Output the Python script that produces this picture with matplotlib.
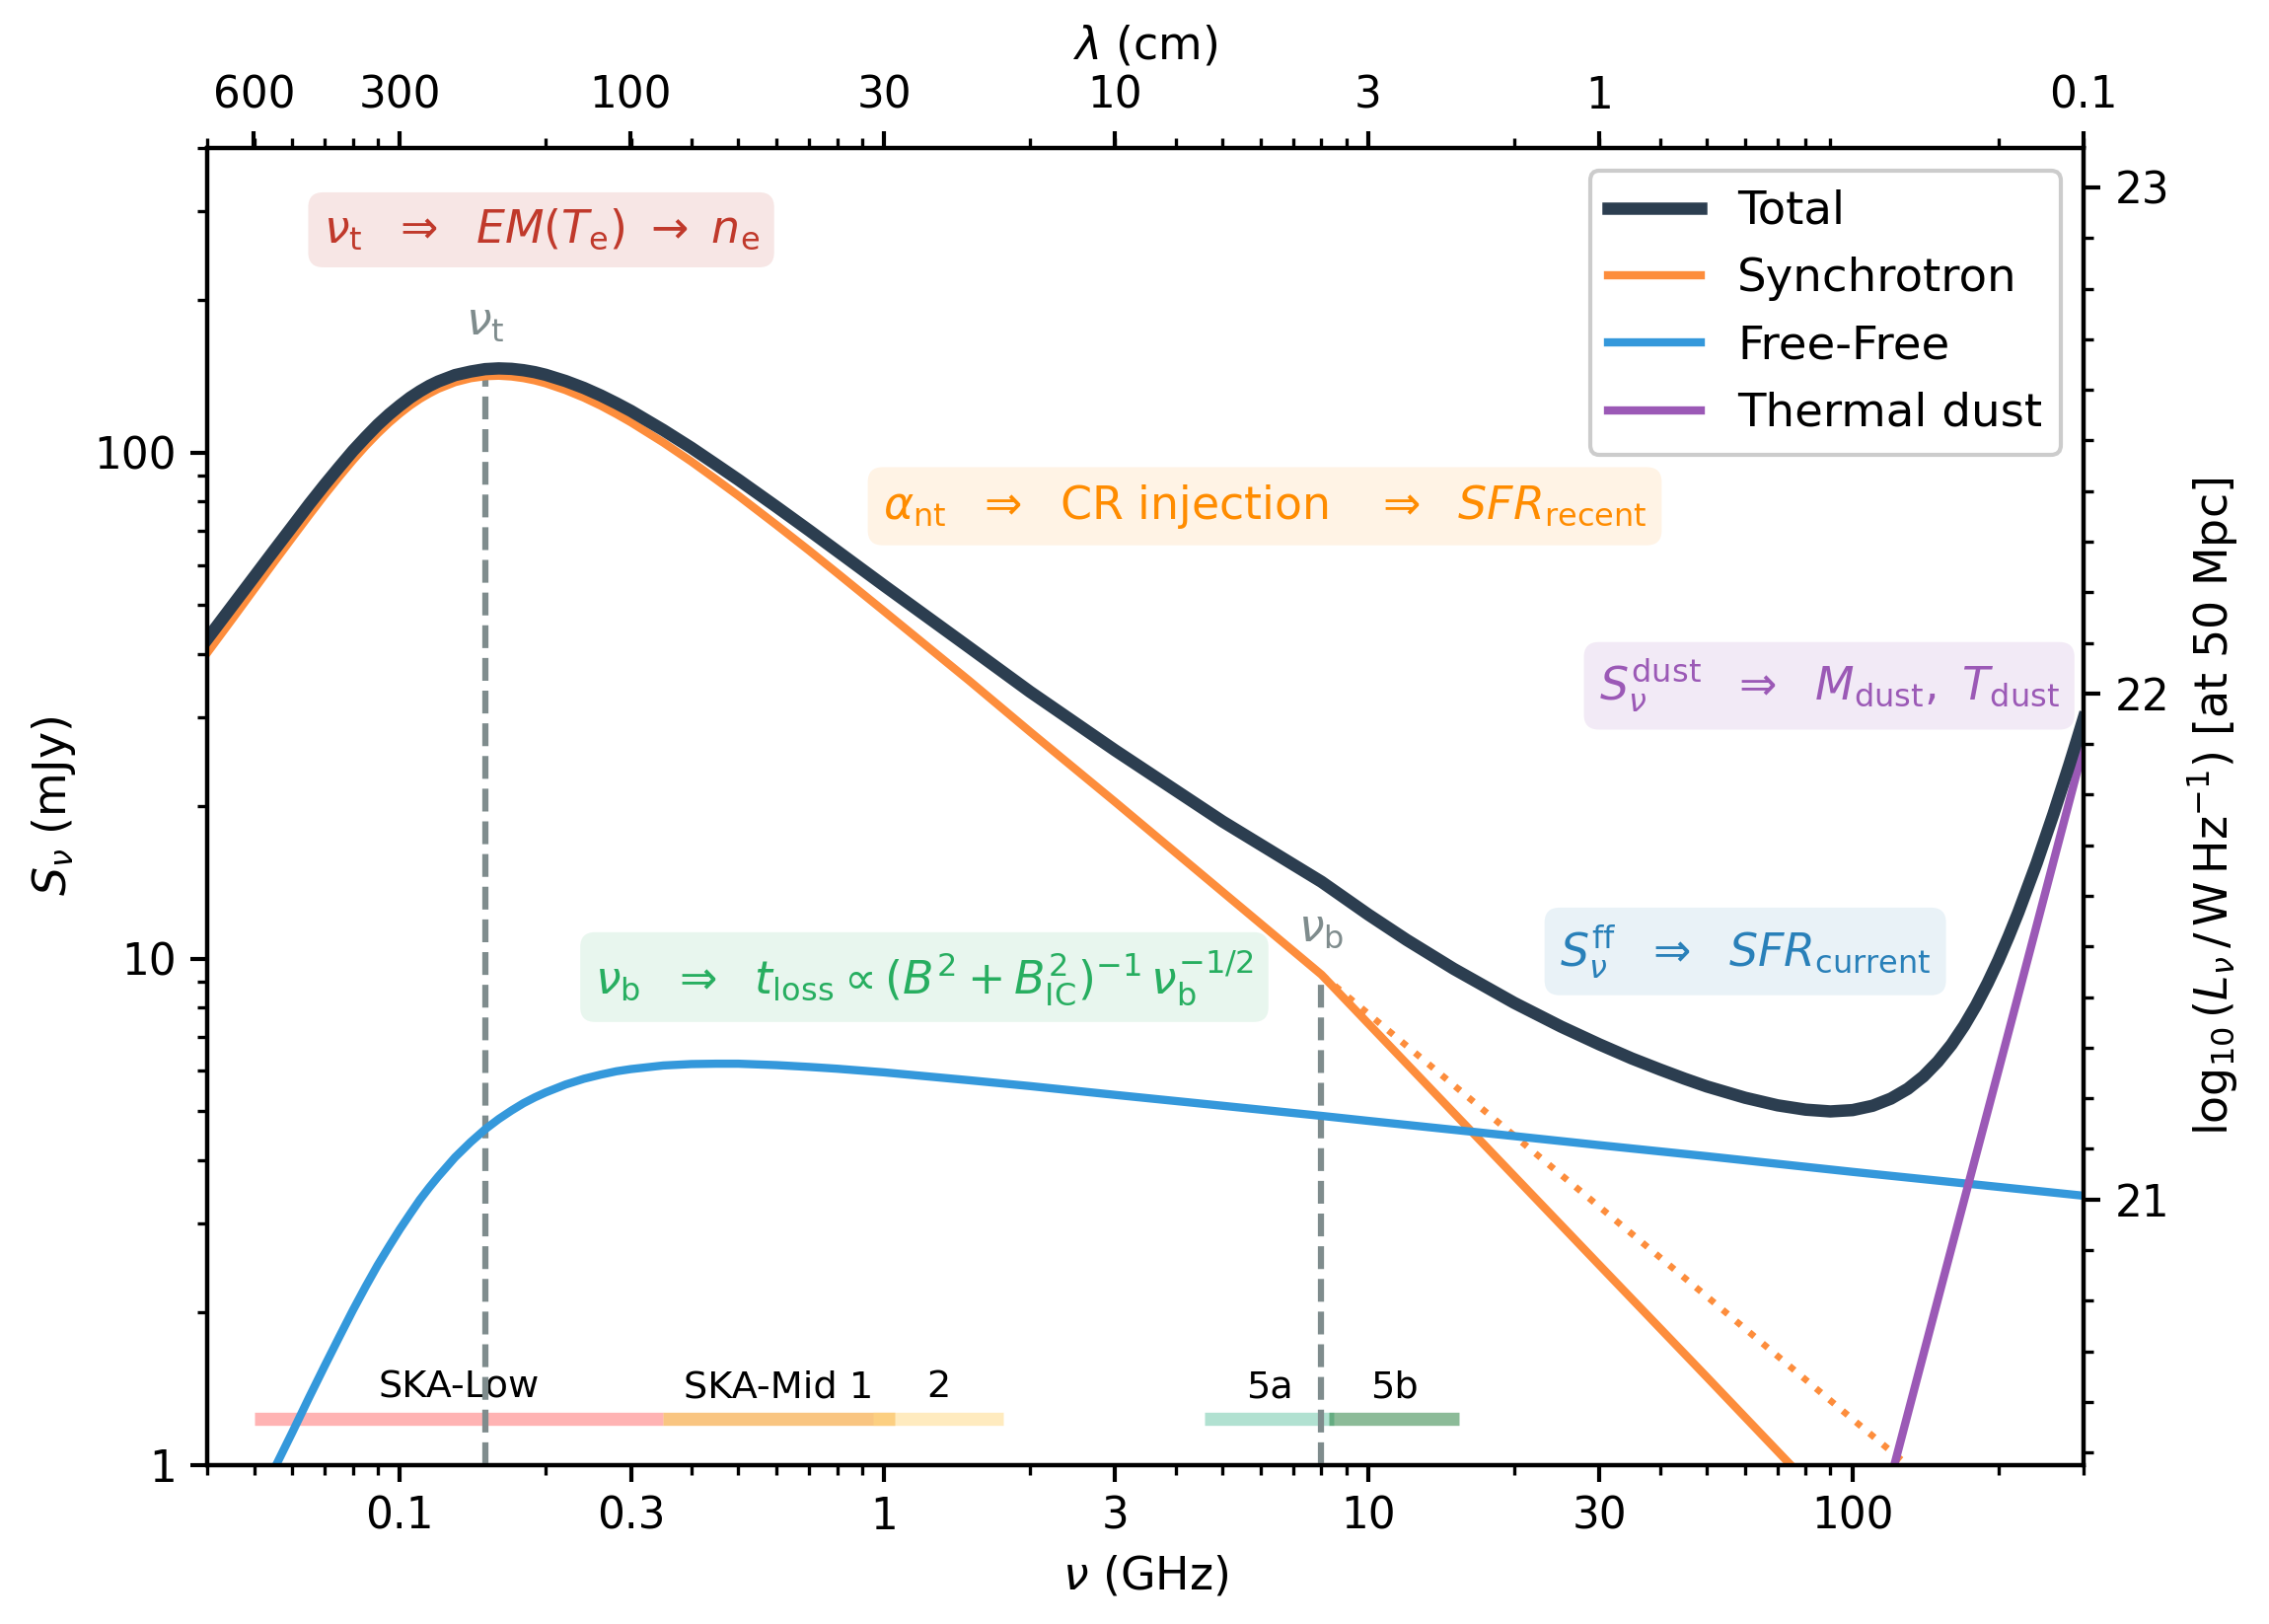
import numpy as np
import matplotlib
matplotlib.use("Agg")
import matplotlib.pyplot as plt
from matplotlib.ticker import NullFormatter, MultipleLocator

# --- values (nu in GHz, S in mJy) ---
nu_tot = [0.04, 0.045, 0.05, 0.055, 0.06, 0.065, 0.07, 0.075, 0.08, 0.085, 0.09, 0.095,
          0.10, 0.105, 0.11, 0.115, 0.12, 0.13, 0.14, 0.15, 0.16, 0.17, 0.18, 0.19,
          0.20, 0.22, 0.24, 0.26, 0.28, 0.30, 0.35, 0.40, 0.45, 0.50, 0.60, 0.70,
          0.80, 1.0, 1.5, 2.0, 3.0, 5.0, 8.0, 10, 12, 15, 20, 25, 30, 35, 40, 45,
          50, 60, 70, 80, 90, 100, 110, 120, 130, 140, 150, 160, 170, 180, 190,
          200, 210, 220, 240, 260, 280, 290, 300]
s_tot = [42.8, 49.7, 56.8, 64.1, 71.5, 79.1, 86.5, 93.7, 100.8, 107.3, 113.5, 119.0,
         123.9, 128.4, 132.2, 135.5, 138.2, 142.3, 144.6, 146.2, 146.7, 146.4, 145.5, 144.2,
         142.5, 138.5, 134.2, 129.7, 125.2, 120.9, 110.8, 102.2, 94.7, 88.4, 78.1, 70.2,
         63.9, 54.6, 41.2, 33.7, 25.8, 18.67, 14.19, 12.22, 10.89, 9.55, 8.18, 7.34, 6.77, 6.35, 6.04, 5.79,
         5.59, 5.31, 5.13, 5.03, 4.99, 5.02, 5.12, 5.29, 5.53, 5.85, 6.26, 6.76, 7.37, 8.09, 8.94,
         9.92, 11.06, 12.35, 15.45, 19.33, 24.09, 26.84, 29.85]

nu_syn = [0.04, 0.045, 0.05, 0.055, 0.06, 0.065, 0.07, 0.075, 0.08, 0.085, 0.09, 0.095,
          0.10, 0.105, 0.11, 0.115, 0.12, 0.13, 0.14, 0.15, 0.16, 0.17, 0.18, 0.19,
          0.20, 0.22, 0.24, 0.26, 0.28, 0.30, 0.35, 0.40, 0.45, 0.50, 0.60, 0.70,
          0.80, 1.0, 1.5, 2.0, 3.0, 5.0, 8.0, 16, 30, 50, 80, 100]
s_syn = [40.2, 46.8, 53.7, 60.8, 68.0, 75.3, 82.6, 89.7, 96.6, 103.1, 109.1, 114.6,
         119.5, 123.9, 127.7, 130.9, 133.7, 137.8, 140.3, 141.6, 141.9, 141.4, 140.35, 138.9,
         137.1, 132.9, 128.4, 123.8, 119.2, 114.8, 104.7, 96.0, 88.5, 82.2, 71.9, 64.05,
         57.8, 48.6, 35.4, 28.1, 20.4, 13.55, 9.30, 4.65, 2.48, 1.49, 0.93, 0.74]

# unbroken power law continued past the break (dotted)
nu_syn_nobreak = [8.0, 20, 50, 100, 140]
s_syn_nobreak = [9.30, 4.47, 2.15, 1.23, 0.94]

nu_ff = [0.04, 0.05, 0.055, 0.06, 0.065, 0.07, 0.075, 0.08, 0.085, 0.09, 0.095, 0.10,
         0.105, 0.11, 0.115, 0.12, 0.13, 0.14, 0.15, 0.16, 0.17, 0.18, 0.19, 0.20,
         0.22, 0.24, 0.26, 0.28, 0.30, 0.35, 0.40, 0.45, 0.50, 0.60, 0.70, 0.80,
         1.0, 1.5, 2.0, 3.0, 5.0, 8.0, 10, 15, 20, 30, 50, 100, 200, 300]
s_ff = [0.52, 0.81, 0.98, 1.16, 1.36, 1.57, 1.79, 2.02, 2.25, 2.48, 2.70, 2.92,
        3.13, 3.34, 3.53, 3.71, 4.05, 4.34, 4.60, 4.82, 5.01, 5.18, 5.32, 5.44,
        5.64, 5.79, 5.90, 5.99, 6.05, 6.15, 6.19, 6.20, 6.20, 6.16, 6.11, 6.06,
        5.96, 5.75, 5.60, 5.38, 5.12, 4.89, 4.78, 4.59, 4.46, 4.28, 4.07, 3.79, 3.54, 3.40]

nu_dust = [100, 122, 150, 200, 250, 300]
s_dust = [0.49, 1.0, 2.12, 6.0, 13.5, 26.2]

nu_t, s_at_nu_t = 0.15, 141.6
nu_b, s_at_nu_b = 8.0, 9.30

ska_labels = ['SKA-Low', 'SKA-Mid 1', '2', '5a', '5b']
ska_lo = [0.05, 0.35, 0.95, 4.6, 8.3]
ska_hi = [0.35, 1.05, 1.76, 8.5, 15.4]
ska_colors = ['#ff6969', '#f58d05', '#ffd981', '#65c5a5', '#1b7933']
ska_y = 1.23

lam_ticks = [600, 300, 100, 30, 10, 3, 1, 0.1]
lam_labels = ['600', '300', '100', '30', '10', '3', '1', '0.1']
nu_ticks = [0.1, 0.3, 1, 3, 10, 30, 100]
nu_labels = ['0.1', '0.3', '1', '3', '10', '30', '100']

C_CM_GHZ = 29.98
LOG_L_OFFSET = 20.476   # log10(4 pi d^2 x 1 mJy) for d = 50 Mpc

c_tot, c_syn, c_ff, c_dust = '#2c3e50', '#fd8d3c', '#3498db', '#9b59b6'
c_guide = '#7f8c8d'

plt.rcParams['font.family'] = ['DejaVu Sans']
plt.rcParams['mathtext.fontset'] = 'dejavusans'
plt.rcParams['font.size'] = 10.5

fig = plt.figure(figsize=(2300 / 300, 1646 / 300), dpi=300)
ax = fig.add_axes([0.0913, 0.0981, 0.8270, 0.8108])

ax.plot(nu_tot, s_tot, color=c_tot, lw=3, label='Total', zorder=6)
ax.plot(nu_syn, s_syn, color=c_syn, lw=2, label='Synchrotron', zorder=5)
ax.plot(nu_syn_nobreak, s_syn_nobreak, color=c_syn, lw=1.6, ls=':', zorder=4)
ax.plot(nu_ff, s_ff, color=c_ff, lw=2, label='Free-Free', zorder=5)
ax.plot(nu_dust, s_dust, color=c_dust, lw=2, label='Thermal dust', zorder=5)

y_lo, y_hi = 1, 400
ax.vlines([nu_t, nu_b], y_lo, [s_at_nu_t, s_at_nu_b], colors=c_guide, linestyles='--',
          lw=1.5, zorder=3)
ax.text(nu_t, 181, r'$\nu_{\rm t}$', color=c_guide, ha='center', va='center', fontsize=11)
ax.text(nu_b, 11.5, r'$\nu_{\rm b}$', color=c_guide, ha='center', va='center', fontsize=11)

# SKA bands
for lab, lo, hi, col in zip(ska_labels, ska_lo, ska_hi, ska_colors):
    ax.plot([lo, hi], [ska_y, ska_y], color=col, lw=3.2, alpha=0.5,
            solid_capstyle='butt', zorder=2)
    ax.text(np.sqrt(lo * hi), 1.31, lab, ha='center', va='bottom', fontsize=9.2,
            zorder=2, bbox=dict(facecolor='white', alpha=0.6, edgecolor='none', pad=1))

# annotation boxes
notes = [
    (0.178, 0.9378, r'$\nu_{\rm t}$  $\Rightarrow$  $EM(T_{\rm e})$ $\rightarrow$ $n_{\rm e}$', '#c0392b', 0.12),
    (0.5636, 0.7279, r'$\alpha_{\rm nt}$  $\Rightarrow$  CR injection   $\Rightarrow$  $SFR_{\rm recent}$', '#ff8c00', 0.1),
    (0.8644, 0.5915, r'$S_\nu^{\rm dust}$  $\Rightarrow$  $M_{\rm dust},\ T_{\rm dust}$', '#9b59b6', 0.12),
    (0.8197, 0.3898, r'$S_\nu^{\rm ff}$  $\Rightarrow$  $SFR_{\rm current}$', '#2980b9', 0.1),
    (0.3822, 0.3703, r'$\nu_{\rm b}$  $\Rightarrow$  $t_{\rm loss} \propto (B^2 + B_{\rm IC}^2)^{-1}\,\nu_{\rm b}^{-1/2}$', '#27ae60', 0.1),
]
for x, y, txt, col, a in notes:
    ax.text(x, y, txt, transform=ax.transAxes, ha='center', va='center', fontsize=11,
            color=col, zorder=7,
            bbox=dict(boxstyle='round,pad=0.33', facecolor=col, alpha=a, edgecolor='none'))

ax.set_xscale('log')
ax.set_yscale('log')
ax.set_xlim(0.04, 300)
ax.set_ylim(y_lo, y_hi)
ax.set_xticks(nu_ticks)
ax.set_xticklabels(nu_labels)
ax.xaxis.set_minor_formatter(NullFormatter())
ax.set_yticks([1, 10, 100])
ax.set_yticklabels(['1', '10', '100'])
ax.yaxis.set_minor_formatter(NullFormatter())
ax.set_xlabel(r'$\nu$ (GHz)', fontsize=11)
ax.set_ylabel(r'$S_\nu$ (mJy)', fontsize=11)

leg = ax.legend(loc='upper right', fontsize=11.2, framealpha=1)
leg.set_zorder(10)

# top axis: wavelength
ax_top = ax.twiny()
ax_top.set_xscale('log')
ax_top.set_xlim(ax.get_xlim())
ax_top.set_xticks([C_CM_GHZ / l for l in lam_ticks])
ax_top.set_xticklabels(lam_labels)
ax_top.xaxis.set_minor_formatter(NullFormatter())
ax_top.set_xlabel(r'$\lambda$ (cm)', fontsize=11)

# right axis: luminosity at 50 Mpc
ax_r = ax.twinx()
ax_r.set_ylim(LOG_L_OFFSET + np.log10(y_lo), LOG_L_OFFSET + np.log10(y_hi))
ax_r.set_yticks([21, 22, 23])
ax_r.set_yticklabels(['21', '22', '23'])
ax_r.yaxis.set_minor_locator(MultipleLocator(0.1))
ax_r.set_ylabel(r'$\log_{10}(L_\nu\,/\,{\rm W\,Hz^{-1}})$ [at 50 Mpc]', fontsize=11)

for a in (ax, ax_top, ax_r):
    a.tick_params(which='major', length=4, width=1, labelsize=10.5)
    a.tick_params(which='minor', length=2.5, width=0.8)
    for sp in a.spines.values():
        sp.set_linewidth(1)

fig.savefig('out.png', dpi=300)
